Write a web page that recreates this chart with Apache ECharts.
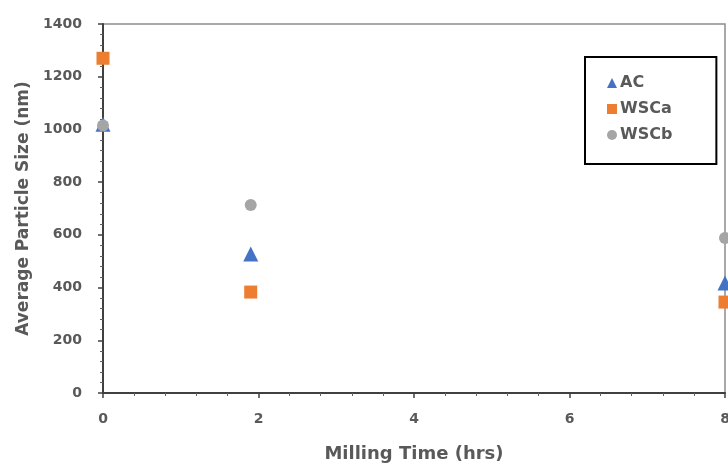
<!DOCTYPE html>
<html>
<head>
<meta charset="utf-8">
<script src="https://cdn.jsdelivr.net/npm/echarts@6/dist/echarts.min.js"></script>
<style>html,body{margin:0;padding:0;background:#fff;}#c{width:728px;height:464px;}</style>
</head>
<body>
<div id="c"></div>
<script>
const seriesNames = ['AC', 'WSCa', 'WSCb'];
const millingTime = [0, 1.9, 8];
const acValues = [1020, 527, 417];
const wscaValues = [1270, 383, 345];
const wscbValues = [1015, 713, 588];
const xTicks = [0, 2, 4, 6, 8];
const yTicks = [0, 200, 400, 600, 800, 1000, 1200, 1400];

const colors = ['#4472C4', '#ED7D31', '#A5A5A5'];
const symbols = ['triangle', 'rect', 'circle'];
const values = [acValues, wscaValues, wscbValues];

const chart = echarts.init(document.getElementById('c'));
const wide = '"DejaVu Sans", sans-serif';
const labelColor = '#595959';
chart.setOption({
  animation: false,
  backgroundColor: '#fff',
  textStyle: { fontFamily: wide },
  grid: { left: 103, right: 3, top: 24, bottom: 71, show: true, borderColor: '#8c8c8c', borderWidth: 1.5, containLabel: false, outerBoundsMode: 'none' },
  legend: {
    orient: 'vertical',
    left: 585, top: 57,
    padding: [18, 44, 21, 22],
    itemGap: 10,
    itemWidth: 10, itemHeight: 10,
    borderColor: '#000', borderWidth: 2,
    textStyle: { fontSize: 16, fontWeight: 'bold', color: labelColor, fontFamily: wide, padding: [0, 0, 0, -2] },
    data: seriesNames
  },
  xAxis: {
    type: 'value', min: xTicks[0], max: xTicks[xTicks.length - 1], interval: 2,
    name: 'Milling Time (hrs)', nameLocation: 'middle', nameGap: 52,
    nameTextStyle: { fontSize: 18, fontWeight: 'bold', color: labelColor, fontFamily: wide },
    axisLine: { lineStyle: { color: '#404040', width: 2 } },
    axisTick: { show: true, length: 5, lineStyle: { color: '#404040', width: 1.5 } },
    minorTick: { show: true, splitNumber: 5, length: 3, lineStyle: { color: '#606060' } },
    splitLine: { show: false },
    axisLabel: { fontSize: 14, fontWeight: 'bold', color: labelColor, margin: 19, fontFamily: wide }
  },
  yAxis: {
    type: 'value', min: yTicks[0], max: yTicks[yTicks.length - 1], interval: 200,
    name: 'Average Particle Size (nm)', nameLocation: 'middle', nameGap: 70, nameRotate: 90,
    nameTextStyle: { fontSize: 17, fontWeight: 'bold', color: labelColor, fontFamily: wide },
    axisLine: { lineStyle: { color: '#404040', width: 2 } },
    axisTick: { show: true, length: 5, lineStyle: { color: '#404040', width: 1.5 } },
    minorTick: { show: true, splitNumber: 5, length: 3, lineStyle: { color: '#606060' } },
    splitLine: { show: false },
    axisLabel: { fontSize: 14, fontWeight: 'bold', color: labelColor, margin: 21, fontFamily: wide, formatter: v => String(v) }
  },
  series: seriesNames.map((n, i) => ({
    name: n, type: 'scatter',
    symbol: symbols[i],
    symbolSize: i === 0 ? 15 : (i === 1 ? 13 : 12),
    itemStyle: { color: colors[i], opacity: 1 },
    z: 3 + i,
    data: millingTime.map((t, j) => [t, values[i][j]])
  }))
});
</script>
</body>
</html>
